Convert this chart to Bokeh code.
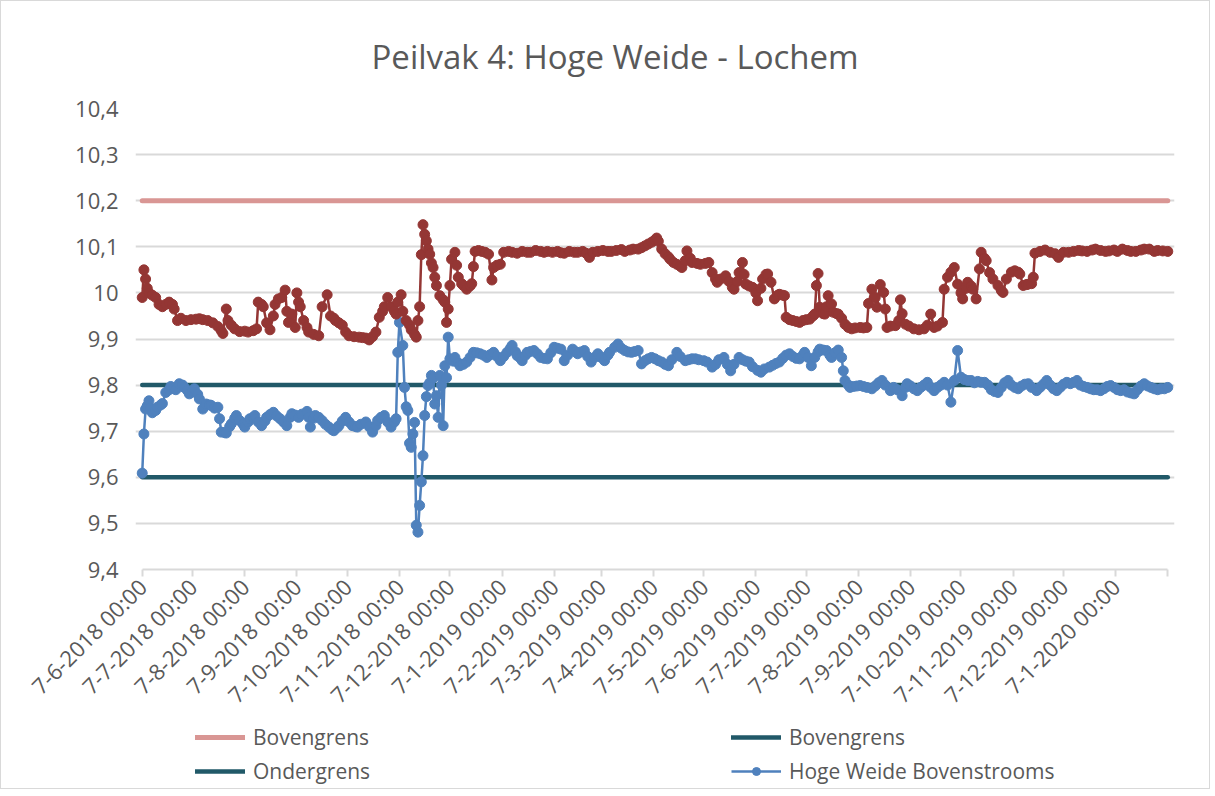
import math
from bokeh.plotting import figure
from bokeh.layouts import column
from bokeh.models import Range1d, FixedTicker, CustomJSTickFormatter, Legend, LegendItem
from bokeh.embed import file_html
from bokeh.resources import INLINE

# ---------------- data ----------------
title_text = "Peilvak 4: Hoge Weide - Lochem"

# x positions are days since 7-6-2018 00:00
tick_days = [0, 30, 61, 92, 122, 153, 183, 214, 245, 273, 304, 334, 365, 395, 426, 457, 487, 518, 548, 579, 610]
tick_labels = ["7-6-2018 00:00", "7-7-2018 00:00", "7-8-2018 00:00", "7-9-2018 00:00", "7-10-2018 00:00",
               "7-11-2018 00:00", "7-12-2018 00:00", "7-1-2019 00:00", "7-2-2019 00:00", "7-3-2019 00:00",
               "7-4-2019 00:00", "7-5-2019 00:00", "7-6-2019 00:00", "7-7-2019 00:00", "7-8-2019 00:00",
               "7-9-2019 00:00", "7-10-2019 00:00", "7-11-2019 00:00", "7-12-2019 00:00", "7-1-2020 00:00", ""]
y_ticks = [9.4, 9.5, 9.6, 9.7, 9.8, 9.9, 10.0, 10.1, 10.2, 10.3, 10.4]

limit_days = [0, 610]
bovengrens_hoog = [10.2, 10.2]
bovengrens = [9.8, 9.8]
ondergrens = [9.6, 9.6]

red_days = [
    0, 1, 2, 3, 4, 6, 8, 10, 12, 14,
    16, 18, 19, 21, 23, 26, 29, 32, 34, 36,
    39, 42, 45, 47, 48, 50, 51, 53, 55, 58,
    61, 63, 66, 68, 69, 71, 72, 74, 76, 78,
    79, 81, 83, 85, 86, 87, 89, 91, 92, 93,
    94, 96, 98, 99, 102, 105, 107, 110, 112, 114,
    115, 117, 119, 121, 123, 126, 129, 131, 133, 135,
    137, 139, 141, 143, 144, 146, 148, 150, 151, 152,
    154, 155, 157, 159, 160, 162, 163, 164, 165, 166,
    167, 168, 169, 170, 171, 172, 173, 174, 175, 177,
    179, 180, 181, 182, 183, 184, 186, 187, 188, 190,
    191, 193, 195, 196, 197, 198, 200, 202, 204, 206,
    208, 209, 211, 213, 215, 218, 220, 223, 226, 229,
    231, 234, 237, 239, 241, 244, 247, 249, 251, 254,
    257, 259, 262, 264, 266, 268, 271, 274, 277, 279,
    282, 285, 287, 290, 292, 295, 297, 299, 301, 303,
    305, 306, 307, 309, 311, 313, 314, 316, 318, 320,
    321, 323, 324, 326, 327, 330, 332, 335, 337, 339,
    341, 342, 344, 347, 349, 351, 352, 354, 355, 357,
    358, 359, 361, 363, 365, 366, 368, 369, 371, 372,
    374, 376, 378, 379, 381, 382, 383, 385, 387, 389,
    391, 393, 395, 397, 399, 400, 401, 402, 403, 405,
    406, 407, 408, 410, 411, 413, 414, 416, 418, 420,
    422, 424, 427, 429, 431, 432, 434, 436, 437, 439,
    441, 442, 443, 445, 448, 450, 451, 452, 454, 456,
    459, 462, 465, 467, 469, 471, 473, 476, 477, 479,
    481, 483, 485, 487, 488, 490, 491, 493, 494, 496,
    498, 499, 501, 502, 504, 506, 509, 511, 512, 514,
    517, 519, 521, 522, 524, 526, 527, 529, 530, 531,
    534, 537, 540, 543, 545, 548, 551, 554, 557, 559,
    562, 565, 567, 570, 573, 575, 578, 580, 583, 586,
    588, 591, 594, 596, 599, 602, 604, 607, 610,
]
red_level = [
    9.99, 10.05, 10.03, 10.01, 10.0, 9.995, 9.99, 9.975, 9.97, 9.975,
    9.98, 9.975, 9.965, 9.94, 9.945, 9.94, 9.942, 9.943, 9.944, 9.942,
    9.94, 9.935, 9.927, 9.918, 9.912, 9.965, 9.94, 9.93, 9.922, 9.916,
    9.917, 9.915, 9.918, 9.922, 9.98, 9.975, 9.97, 9.935, 9.92, 9.95,
    9.975, 9.987, 9.99, 10.006, 9.96, 9.936, 9.954, 9.925, 10.0, 9.98,
    9.97, 9.94, 9.925, 9.915, 9.91, 9.907, 9.97, 9.996, 9.95, 9.945,
    9.94, 9.935, 9.93, 9.915, 9.907, 9.905, 9.904, 9.903, 9.902, 9.898,
    9.905, 9.915, 9.947, 9.96, 9.97, 9.99, 9.97, 9.96, 9.954, 9.98,
    9.996, 9.96, 9.94, 9.93, 9.92, 9.91, 9.904, 9.94, 9.97, 10.083,
    10.148, 10.127, 10.113, 10.095, 10.084, 10.065, 10.055, 10.034, 10.016, 9.994,
    9.985, 9.98, 9.936, 9.965, 10.016, 10.073, 10.088, 10.06, 10.034, 10.02,
    10.016, 10.008, 10.015, 10.02, 10.057, 10.09, 10.092, 10.09, 10.088, 10.084,
    10.028, 10.055, 10.06, 10.062, 10.088, 10.09, 10.088, 10.086, 10.09, 10.088,
    10.088, 10.092, 10.09, 10.088, 10.09, 10.088, 10.09, 10.087, 10.086, 10.09,
    10.088, 10.088, 10.09, 10.086, 10.077, 10.088, 10.09, 10.092, 10.09, 10.09,
    10.092, 10.094, 10.09, 10.093, 10.095, 10.095, 10.098, 10.102, 10.106, 10.11,
    10.115, 10.119, 10.112, 10.095, 10.085, 10.078, 10.073, 10.066, 10.062, 10.058,
    10.055, 10.07, 10.091, 10.075, 10.066, 10.064, 10.062, 10.064, 10.066, 10.044,
    10.03, 10.023, 10.03, 10.037, 10.025, 10.012, 10.008, 10.025, 10.044, 10.066,
    10.04, 10.019, 10.015, 10.012, 10.0, 9.983, 10.01, 10.03, 10.04, 10.041,
    10.023, 9.987, 9.995, 9.997, 9.995, 9.994, 9.947, 9.942, 9.94, 9.938,
    9.936, 9.94, 9.942, 9.943, 9.95, 9.954, 10.016, 10.042, 9.969, 9.955,
    9.954, 9.97, 9.994, 9.976, 9.958, 9.955, 9.954, 9.945, 9.932, 9.925,
    9.922, 9.924, 9.925, 9.924, 9.925, 9.977, 10.008, 9.99, 9.969, 10.018,
    10.001, 9.965, 9.925, 9.928, 9.929, 9.94, 9.985, 9.955, 9.932, 9.928,
    9.922, 9.92, 9.922, 9.93, 9.954, 9.925, 9.928, 9.936, 10.008, 10.034,
    10.045, 10.055, 10.019, 10.0, 9.987, 10.01, 10.023, 10.015, 10.008, 9.987,
    10.052, 10.088, 10.075, 10.07, 10.044, 10.03, 10.016, 10.005, 10.001, 10.03,
    10.045, 10.048, 10.045, 10.041, 10.016, 10.018, 10.019, 10.02, 10.034, 10.086,
    10.09, 10.093, 10.088, 10.085, 10.077, 10.088, 10.088, 10.09, 10.092, 10.091,
    10.09, 10.093, 10.095, 10.092, 10.09, 10.091, 10.093, 10.09, 10.095, 10.092,
    10.09, 10.09, 10.093, 10.095, 10.095, 10.09, 10.092, 10.091, 10.09,
]

blue_days = [
    0, 1, 2, 3, 4, 5, 6, 8, 9, 11,
    12, 14, 16, 17, 19, 20, 22, 24, 25, 27,
    28, 30, 31, 33, 34, 36, 38, 40, 41, 43,
    45, 46, 47, 49, 50, 52, 53, 55, 56, 58,
    60, 61, 63, 64, 66, 67, 69, 71, 73, 74,
    76, 78, 80, 82, 84, 86, 88, 89, 91, 93,
    95, 98, 99, 100, 102, 103, 105, 107, 109, 111,
    113, 114, 116, 117, 119, 121, 123, 125, 127, 128,
    130, 133, 135, 137, 139, 140, 142, 144, 146, 148,
    150, 151, 152, 153, 155, 156, 157, 158, 159, 160,
    161, 162, 163, 164, 165, 166, 167, 168, 169, 170,
    171, 172, 173, 174, 175, 176, 177, 178, 179, 180,
    181, 182, 183, 185, 186, 188, 189, 191, 193, 195,
    197, 199, 201, 203, 205, 207, 209, 211, 213, 215,
    217, 219, 220, 222, 223, 225, 226, 228, 229, 231,
    233, 235, 237, 239, 241, 243, 245, 247, 249, 251,
    253, 256, 258, 259, 261, 263, 265, 267, 269, 271,
    273, 275, 277, 278, 281, 283, 285, 287, 289, 291,
    293, 295, 297, 299, 301, 303, 305, 307, 309, 311,
    313, 315, 318, 320, 323, 325, 327, 329, 331, 334,
    336, 339, 341, 343, 346, 348, 350, 352, 355, 357,
    359, 361, 363, 366, 368, 370, 373, 375, 377, 379,
    381, 383, 385, 387, 389, 391, 393, 394, 396, 398,
    400, 402, 403, 405, 407, 409, 410, 412, 414, 416,
    417, 418, 420, 421, 423, 425, 427, 429, 431, 434,
    436, 438, 440, 442, 445, 447, 449, 452, 454, 455,
    457, 459, 461, 463, 465, 467, 469, 471, 473, 475,
    477, 479, 481, 483, 485, 487, 489, 491, 493, 495,
    497, 499, 501, 503, 505, 507, 509, 511, 513, 515,
    517, 519, 521, 523, 525, 527, 529, 532, 534, 536,
    538, 540, 542, 544, 546, 548, 550, 552, 554, 556,
    558, 560, 562, 564, 566, 568, 570, 572, 574, 576,
    578, 580, 582, 584, 586, 588, 590, 592, 594, 596,
    598, 600, 602, 604, 606, 608, 610,
]
blue_level = [
    9.609, 9.694, 9.748, 9.755, 9.766, 9.75, 9.74, 9.745, 9.752, 9.757,
    9.76, 9.784, 9.79, 9.797, 9.792, 9.79, 9.803, 9.8, 9.795, 9.788,
    9.781, 9.787, 9.792, 9.78, 9.77, 9.748, 9.759, 9.757, 9.756, 9.75,
    9.752, 9.727, 9.698, 9.697, 9.696, 9.71, 9.716, 9.728, 9.734, 9.723,
    9.715, 9.709, 9.72, 9.727, 9.73, 9.734, 9.72, 9.712, 9.722, 9.73,
    9.736, 9.741, 9.733, 9.727, 9.72, 9.712, 9.73, 9.738, 9.735, 9.73,
    9.737, 9.743, 9.73, 9.709, 9.728, 9.734, 9.73, 9.723, 9.715, 9.709,
    9.703, 9.701, 9.708, 9.712, 9.722, 9.73, 9.72, 9.712, 9.71, 9.709,
    9.715, 9.72, 9.71, 9.698, 9.712, 9.723, 9.73, 9.734, 9.72, 9.709,
    9.72, 9.727, 9.871, 9.936, 9.886, 9.795, 9.753, 9.745, 9.674, 9.665,
    9.694, 9.719, 9.496, 9.481, 9.539, 9.59, 9.647, 9.734, 9.775, 9.799,
    9.805, 9.821, 9.815, 9.759, 9.777, 9.73, 9.821, 9.8, 9.712, 9.842,
    9.816, 9.904, 9.857, 9.852, 9.86, 9.848, 9.842, 9.845, 9.85, 9.86,
    9.871, 9.87, 9.868, 9.865, 9.86, 9.866, 9.871, 9.862, 9.853, 9.862,
    9.871, 9.88, 9.886, 9.872, 9.864, 9.858, 9.853, 9.865, 9.871, 9.873,
    9.875, 9.868, 9.86, 9.858, 9.857, 9.87, 9.882, 9.88, 9.878, 9.853,
    9.865, 9.878, 9.872, 9.868, 9.872, 9.875, 9.862, 9.85, 9.86, 9.868,
    9.86, 9.853, 9.865, 9.871, 9.882, 9.889, 9.88, 9.875, 9.872, 9.871,
    9.873, 9.875, 9.846, 9.853, 9.857, 9.86, 9.857, 9.853, 9.85, 9.845,
    9.842, 9.855, 9.871, 9.862, 9.853, 9.855, 9.857, 9.857, 9.855, 9.853,
    9.85, 9.839, 9.845, 9.855, 9.86, 9.845, 9.831, 9.845, 9.86, 9.855,
    9.852, 9.85, 9.84, 9.832, 9.828, 9.835, 9.839, 9.843, 9.847, 9.85,
    9.858, 9.865, 9.868, 9.862, 9.858, 9.857, 9.865, 9.871, 9.86, 9.842,
    9.86, 9.872, 9.878, 9.876, 9.875, 9.865, 9.86, 9.87, 9.876, 9.86,
    9.831, 9.81, 9.8, 9.795, 9.797, 9.798, 9.799, 9.797, 9.795, 9.792,
    9.798, 9.805, 9.81, 9.8, 9.788, 9.795, 9.79, 9.777, 9.795, 9.803,
    9.798, 9.792, 9.788, 9.795, 9.8, 9.806, 9.795, 9.788, 9.795, 9.8,
    9.806, 9.8, 9.763, 9.81, 9.875, 9.817, 9.812, 9.81, 9.81, 9.805,
    9.808, 9.806, 9.806, 9.8, 9.79, 9.786, 9.784, 9.795, 9.805, 9.81,
    9.8, 9.795, 9.792, 9.798, 9.802, 9.803, 9.795, 9.788, 9.795, 9.802,
    9.81, 9.8, 9.792, 9.788, 9.795, 9.802, 9.806, 9.803, 9.806, 9.81,
    9.8, 9.797, 9.795, 9.792, 9.79, 9.79, 9.788, 9.792, 9.797, 9.799,
    9.795, 9.79, 9.788, 9.79, 9.785, 9.783, 9.781, 9.79, 9.798, 9.803,
    9.798, 9.795, 9.792, 9.79, 9.792, 9.792, 9.795,
]
assert len(red_days) == len(red_level)
assert len(blue_days) == len(blue_level)

# ---------------- styling ----------------
FONT = "Open Sans"
TXT = "#595959"
GRID = "#D9D9D9"
PINK = "#D99694"
TEAL = "#215968"
RED = "#943634"
BLUE = "#4F81BD"
W = 1208

p = figure(width=W, height=721, output_backend="svg", toolbar_location=None,
           x_range=Range1d(-4, 614), y_range=Range1d(9.4, 10.4),
           min_border_left=134, min_border_right=35, min_border_top=107, min_border_bottom=152)
p.outline_line_color = None
p.background_fill_color = "white"
p.border_fill_color = "white"

p.title.text = title_text
p.title.text_font = FONT
p.title.text_font_size = "33px"
p.title.text_font_style = "normal"
p.title.text_color = TXT
p.title.align = "left"
p.title.offset = 236
p.title.standoff = 60

# y axis
p.yaxis.ticker = FixedTicker(ticks=y_ticks)
p.yaxis.formatter = CustomJSTickFormatter(code="return (Math.round(tick*10)/10).toString().replace('.', ',');")
p.yaxis.axis_line_color = None
p.yaxis.major_tick_line_color = None
p.yaxis.minor_tick_line_color = None
p.yaxis.major_tick_out = 0
p.yaxis.major_label_standoff = 17
p.yaxis.major_label_text_font = FONT
p.yaxis.major_label_text_font_size = "22px"
p.yaxis.major_label_text_color = TXT

# x axis
p.xaxis.ticker = FixedTicker(ticks=tick_days)
p.xaxis.major_label_overrides = {d: lab for d, lab in zip(tick_days, tick_labels)}
p.xaxis.bounds = (0, 610)
p.xaxis.major_label_orientation = math.pi / 4
p.xaxis.axis_line_color = GRID
p.xaxis.axis_line_width = 2
p.xaxis.major_tick_line_color = GRID
p.xaxis.major_tick_line_width = 2
p.xaxis.major_tick_out = 7
p.xaxis.major_tick_in = 0
p.xaxis.minor_tick_line_color = None
p.xaxis.major_label_standoff = 6
p.xaxis.major_label_text_font = FONT
p.xaxis.major_label_text_font_size = "22px"
p.xaxis.major_label_text_color = TXT

p.xgrid.visible = False
p.ygrid.ticker = FixedTicker(ticks=y_ticks)
p.ygrid.bounds = (0, 610)
p.ygrid.grid_line_color = GRID
p.ygrid.grid_line_width = 2

# series
pink_style = dict(line_color=PINK, line_width=5, line_cap="round")
teal_style = dict(line_color=TEAL, line_width=4.5, line_cap="round")
blue_line_style = dict(line_color=BLUE, line_width=2.5)
blue_pt_style = dict(size=10, marker="circle", fill_color=BLUE, line_color=BLUE, line_width=1)

p.line(limit_days, bovengrens_hoog, **pink_style)
p.line(limit_days, bovengrens, **teal_style)
p.line(limit_days, ondergrens, **teal_style)
p.line(blue_days, blue_level, **blue_line_style)
p.scatter(blue_days, blue_level, **blue_pt_style)
p.line(red_days, red_level, line_color=RED, line_width=2.5)
p.scatter(red_days, red_level, size=10, marker="circle", fill_color=RED, line_color=RED, line_width=1)

# ---------------- legend strip (same series, legend only) ----------------
lg = figure(width=W, height=66, output_backend="svg", toolbar_location=None,
            x_range=Range1d(-1000, -999), y_range=Range1d(-1000, -999),
            x_axis_type=None, y_axis_type=None,
            min_border_left=0, min_border_right=0, min_border_top=0, min_border_bottom=0)
lg.outline_line_color = None
lg.background_fill_color = "white"
lg.border_fill_color = "white"
g_pink = lg.line(limit_days, bovengrens_hoog, **pink_style)
g_boven = lg.line(limit_days, bovengrens, **teal_style)
g_onder = lg.line(limit_days, ondergrens, **teal_style)
g_blue_l = lg.line(blue_days, blue_level, **blue_line_style)
g_blue_p = lg.scatter(blue_days, blue_level, **blue_pt_style)

def make_legend(items, loc):
    leg = Legend(items=items, location=loc)
    leg.border_line_color = None
    leg.background_fill_alpha = 0
    leg.padding = 0
    leg.margin = 0
    leg.spacing = 6
    leg.glyph_width = 50
    leg.glyph_height = 20
    leg.label_height = 20
    leg.label_standoff = 8
    leg.label_text_font = FONT
    leg.label_text_font_size = "21px"
    leg.label_text_color = TXT
    return leg

lg.add_layout(make_legend([LegendItem(label="Bovengrens", renderers=[g_pink]),
                           LegendItem(label="Ondergrens", renderers=[g_onder])], (60, 3)))
lg.add_layout(make_legend([LegendItem(label="Bovengrens", renderers=[g_boven]),
                           LegendItem(label="Hoge Weide Bovenstrooms", renderers=[g_blue_l, g_blue_p])], (596, 3)))

page = column(p, lg, spacing=0, styles={"border": "1px solid #D9D9D9"})

open("out.html", "w").write(file_html(page, INLINE))
